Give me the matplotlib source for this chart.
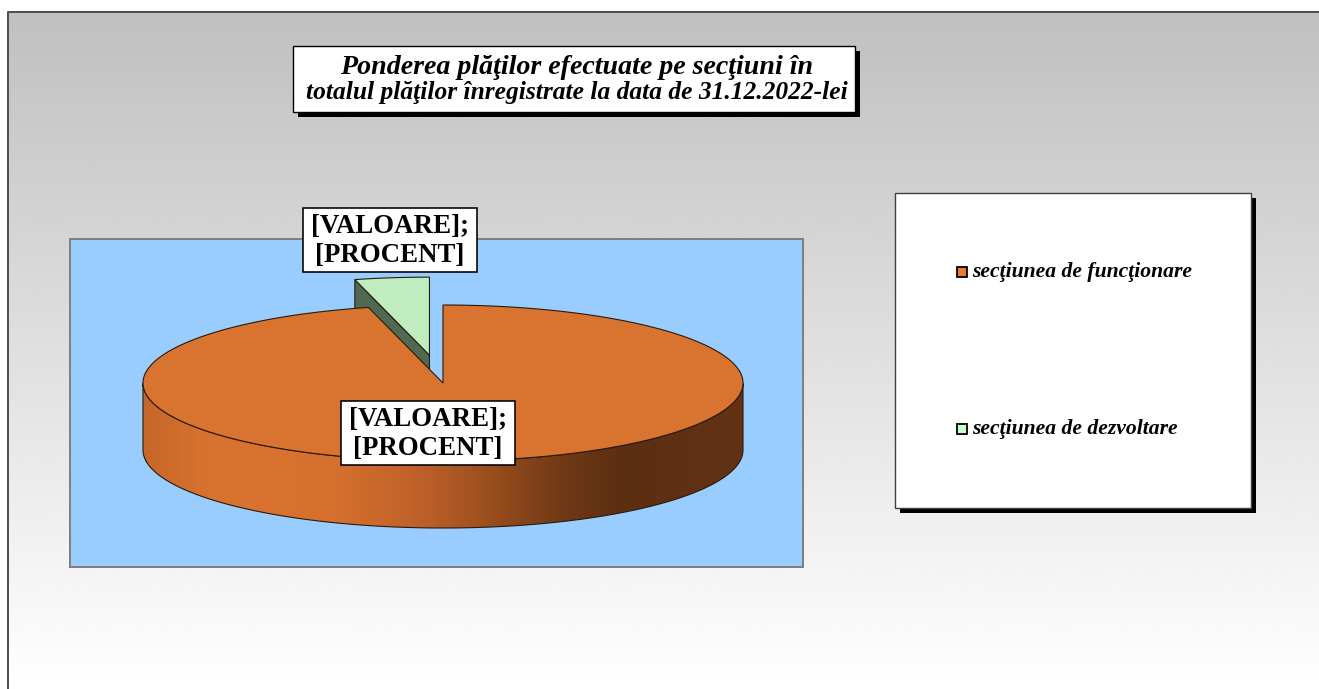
import numpy as np
import matplotlib
matplotlib.use("Agg")
import matplotlib.pyplot as plt
from matplotlib.patches import Polygon, Rectangle
from matplotlib.colors import LinearSegmentedColormap

# ---------------- data ----------------
categories = ["secţiunea de funcţionare", "secţiunea de dezvoltare"]
shares = [96.0, 4.0]
data_labels = ["[VALOARE];\n[PROCENT]", "[VALOARE];\n[PROCENT]"]
explode = [0.0, 0.36]
title_text = ("Ponderea plăţilor efectuate pe secţiuni în\n"
              "totalul plăţilor înregistrate la data de 31.12.2022-lei")

# ---------------- styles ----------------
top_colors = ["#D97430", "#BFEDC0"]
wall_colors = ["#8A4A1C", "#4F6A50"]
side_stops = [
    [(0.0, "#C6672A"), (0.12, "#DA7330"), (0.32, "#D6702E"), (0.46, "#BE6129"),
     (0.58, "#9A4E1E"), (0.70, "#703916"), (0.80, "#5C2E12"), (1.0, "#633215")],
    [(0.0, "#5A7A5C"), (1.0, "#3D523E")],
]
legend_colors = ["#EC7A2E", "#CCFFCC"]
label_pos = [(428, 433), (390, 240)]
label_box = (174, 64)
title_line_y = [67, 92]
title_line_size = [20.2, 18.4]
SERIF = ["Liberation Serif", "DejaVu Serif"]

W, H = 1319, 689
fig = plt.figure(figsize=(W / 100, H / 100), dpi=100)
ax = fig.add_axes([0, 0, 1, 1])
ax.set_xlim(0, W)
ax.set_ylim(H, 0)
ax.axis("off")

PX = 72 / 100  # points per pixel

# chart area background (gradient)
grad = np.linspace(0.753, 1.0, 256)[:, None]
ax.imshow(grad, extent=(8, W, H, 12), cmap="gray", vmin=0, vmax=1,
          aspect="auto", zorder=0, interpolation="bicubic")
ax.plot([8, 8, W], [H, 12, 12], color="#505050", lw=2 * PX, zorder=1,
        solid_capstyle="projecting")

# plot area
ax.add_patch(Rectangle((70, 239), 733, 328, fc="#99CCFF", ec="#808080",
                       lw=2 * PX, zorder=1))

# ---------------- 3D pie ----------------
cx, cy, rx, ry, depth = 443, 383, 300, 78, 67


def proj(t_deg, r=1.0, off=(0.0, 0.0), z=0.0):
    t = np.radians(t_deg)
    x = cx + rx * (r * np.cos(t) + off[0])
    y = cy - ry * (r * np.sin(t) + off[1]) + z
    return np.column_stack([np.atleast_1d(x), np.atleast_1d(y)])


total = sum(shares)
slices = []
start = 90.0
for i, v in enumerate(shares):
    a2 = start
    a1 = start - v / total * 360.0
    start = a1
    mid = np.radians((a1 + a2) / 2)
    off = (explode[i] * np.cos(mid), explode[i] * np.sin(mid))
    slices.append(dict(i=i, a1=a1, a2=a2, mid=mid, off=off))

# draw back slices first
slices.sort(key=lambda s: -np.sin(s["mid"]))
edge = "#2A1A0A"
z = 2
for s in slices:
    i, a1, a2, off = s["i"], s["a1"], s["a2"], s["off"]
    # outer side (visible where sin < 0)
    ts = np.linspace(a1, a2, 721)
    vis = np.sin(np.radians(ts)) < 1e-9
    runs = []
    cur = []
    for t, v in zip(ts, vis):
        if v:
            cur.append(t)
        elif cur:
            runs.append(cur)
            cur = []
    if cur:
        runs.append(cur)
    cmap = LinearSegmentedColormap.from_list("side%d" % i, side_stops[i])
    for run in runs:
        run = np.array(run)
        if len(run) < 2:
            continue
        top = proj(run, off=off)
        bot = proj(run[::-1], off=off, z=depth)
        poly = Polygon(np.vstack([top, bot]), closed=True, fc="none",
                       ec=edge, lw=0.8, zorder=z + 1)
        ax.add_patch(poly)
        x0 = cx - rx + off[0] * rx
        im = ax.imshow(np.linspace(0, 1, 512)[None, :], cmap=cmap,
                       extent=(x0, x0 + 2 * rx, cy + ry + depth + 10, cy - ry - 10),
                       aspect="auto", zorder=z, interpolation="bilinear")
        im.set_clip_path(poly)
    # radial walls
    for a, nrm in ((a1, a1 - 90), (a2, a2 + 90)):
        if np.sin(np.radians(nrm)) < -1e-6:
            c_top = proj(0, r=0, off=off)
            r_top = proj(a, off=off)
            r_bot = proj(a, off=off, z=depth)
            c_bot = proj(0, r=0, off=off, z=depth)
            ax.add_patch(Polygon(np.vstack([c_top, r_top, r_bot, c_bot]),
                                 closed=True, fc=wall_colors[i], ec=edge,
                                 lw=0.8, zorder=z + 1))
    # top face
    tt = np.linspace(a1, a2, 721)
    pts = np.vstack([proj(0, r=0, off=off), proj(tt, off=off)])
    ax.add_patch(Polygon(pts, closed=True, fc=top_colors[i], ec=edge,
                         lw=0.8, zorder=z + 2))
    z += 3

# data labels
bw, bh = label_box
for (lx, ly), txt in zip(label_pos, data_labels):
    ax.add_patch(Rectangle((lx - bw / 2, ly - bh / 2), bw, bh, fc="white",
                           ec="black", lw=1.6 * PX, zorder=29))
    ax.text(lx, ly + 1, txt, ha="center", va="center", fontsize=19.4,
            family=SERIF, weight="bold", linespacing=1.2, zorder=30)

# ---------------- title ----------------
ax.add_patch(Rectangle((298, 51), 562, 66, fc="black", ec="none", zorder=20))
ax.add_patch(Rectangle((293, 46), 562, 66, fc="white", ec="black",
                       lw=1.4 * PX, zorder=21))
for line, yy, fs in zip(title_text.split("\n"), title_line_y, title_line_size):
    ax.text(577, yy, line, ha="center", va="center", fontsize=fs,
            family=SERIF, weight="bold", style="italic", zorder=22)

# ---------------- legend ----------------
ax.add_patch(Rectangle((900, 198), 356, 315, fc="black", ec="none", zorder=20))
ax.add_patch(Rectangle((895, 193), 356, 315, fc="white", ec="#404040",
                       lw=1.4 * PX, zorder=21))
leg_y = [272, 429]
for name, col, yy in zip(categories, legend_colors, leg_y):
    ax.add_patch(Rectangle((957, yy - 5), 10, 10, fc=col, ec="black",
                           lw=1.8 * PX, zorder=22))
    ax.text(972, yy, name, ha="left", va="center", fontsize=15.6,
            family=SERIF, weight="bold", style="italic", zorder=22)

fig.savefig("out.png", dpi=100)
